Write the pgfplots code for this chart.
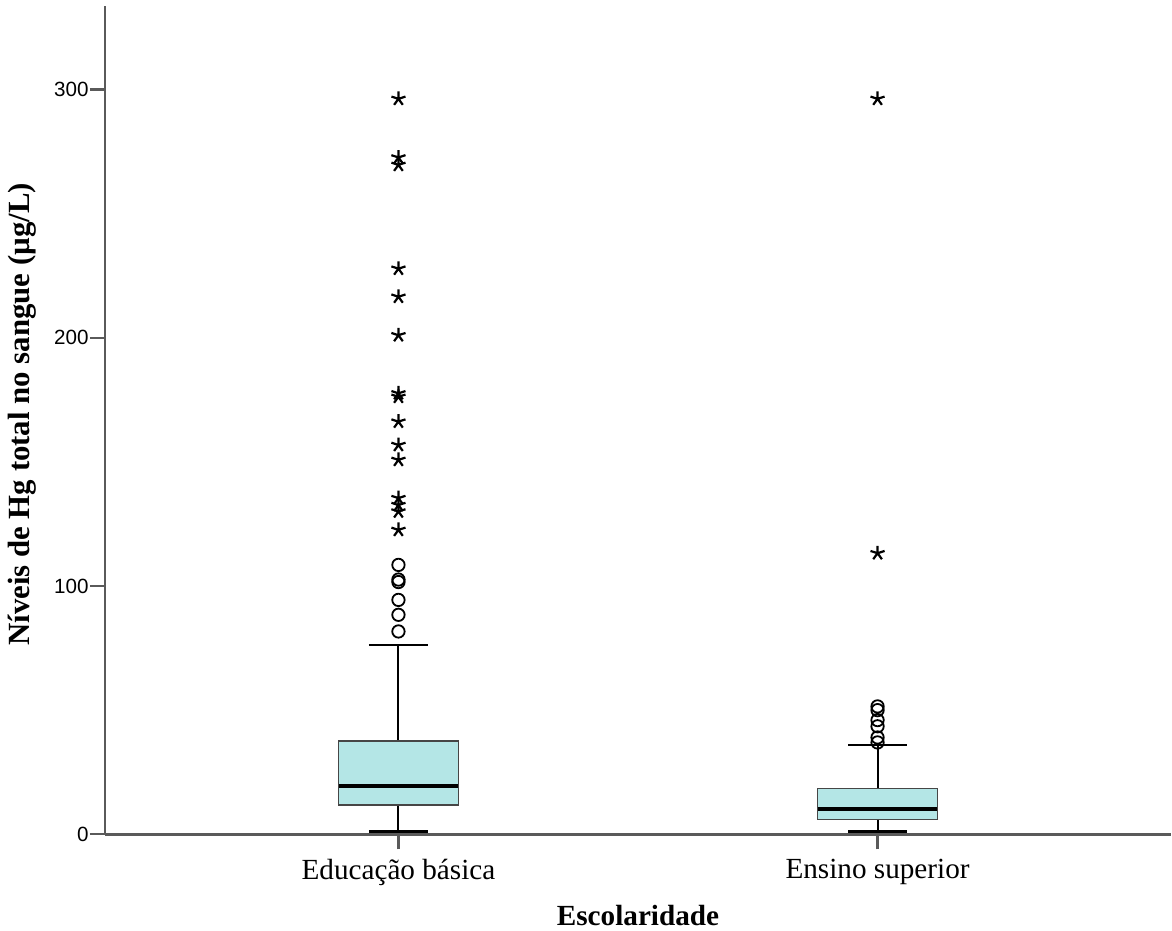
\documentclass[border=0pt]{standalone}
\usepackage{fontspec}
\setmainfont{Liberation Serif}
\newfontfamily\arialfont{Liberation Sans}
\usepackage{pgfplots}
\pgfplotsset{compat=1.18}
\definecolor{boxfill}{RGB}{180,230,230}
\definecolor{axgray}{RGB}{90,90,90}
\definecolor{boxedge}{RGB}{70,70,70}
\begin{document}
\begin{tikzpicture}
\begin{axis}[
  scale only axis, width=533pt, height=414.15pt,
  xmin=0.3875, xmax=2.6125, ymin=0, ymax=333.6,
  axis x line*=bottom, axis y line*=left,
  axis line style={axgray, line width=1.4pt},
  xtick={1,2}, xticklabels={Educação básica, Ensino superior},
  ytick={0,100,200,300},
  tick align=outside, major tick length=7.5pt,
  tick style={axgray, line width=1.1pt},
  /pgf/number format/assume math mode=true,
  yticklabel style={font=\arialfont\fontsize{10.3}{12}\selectfont, inner sep=0.5pt},
  xticklabel style={font=\fontsize{14.6}{17}\selectfont, yshift=-1.5pt},
  xlabel={Escolaridade},
  ylabel={Níveis de Hg total no sangue (µg/L)},
  label style={font=\bfseries\fontsize{14.6}{17}\selectfont},
  xlabel style={at={(axis description cs:0.5,-0.0978)}, anchor=center},
  ylabel style={at={(axis description cs:-0.0779,0.507)}, anchor=center, font=\bfseries\fontsize{15.4}{18}\selectfont},
  clip=false,
]
% ---- group 1: Educacao basica ----
\addplot[black, line width=1pt] coordinates {(1,1.3) (1,11.8)};
\addplot[black, line width=1pt] coordinates {(1,37.6) (1,76.2)};
\addplot[black, line width=1.5pt] coordinates {(0.9385,1.3) (1.0615,1.3)};
\addplot[black, line width=1pt] coordinates {(0.9385,76.2) (1.0615,76.2)};
\addplot[draw=boxedge, fill=boxfill, line width=0.6pt] coordinates {(0.875,11.8) (1.125,11.8) (1.125,37.6) (0.875,37.6)} -- cycle;
\addplot[black, line width=2pt] coordinates {(0.875,19.6) (1.125,19.6)};
% ---- group 2: Ensino superior ----
\addplot[black, line width=1pt] coordinates {(2,1.3) (2,6.0)};
\addplot[black, line width=1pt] coordinates {(2,18.3) (2,36.1)};
\addplot[black, line width=1.5pt] coordinates {(1.9385,1.3) (2.0615,1.3)};
\addplot[black, line width=1pt] coordinates {(1.9385,36.1) (2.0615,36.1)};
\addplot[draw=boxedge, fill=boxfill, line width=0.6pt] coordinates {(1.875,6.0) (2.125,6.0) (2.125,18.3) (1.875,18.3)} -- cycle;
\addplot[black, line width=2pt] coordinates {(1.875,10.3) (2.125,10.3)};
% circles (outliers)
\addplot[only marks, mark=o, mark size=3.1pt, black, line width=0.9pt] coordinates {
  (1,108.5) (1,102.6) (1,101.6) (1,94.4) (1,88.4) (1,81.7)
  (2,51.5) (2,50.0) (2,46.0) (2,43.5) (2,39.0) (2,37.0)
};
% stars (extremes)
\addplot[only marks, mark=star, mark size=3.7pt, black, line width=1.1pt] coordinates {
  (1,296.2) (1,272.6) (1,269.6) (1,227.8) (1,216.5) (1,201.0)
  (1,177.6) (1,176.2) (1,166.2) (1,156.8) (1,150.8)
  (1,135.4) (1,132.6) (1,130.0) (1,122.6)
  (2,296.2) (2,113.2)
};
\end{axis}
\pgfresetboundingbox
\path[use as bounding box] (-52.5pt,-48.35pt) rectangle (533.5pt,417.15pt);
\end{tikzpicture}
\end{document}
